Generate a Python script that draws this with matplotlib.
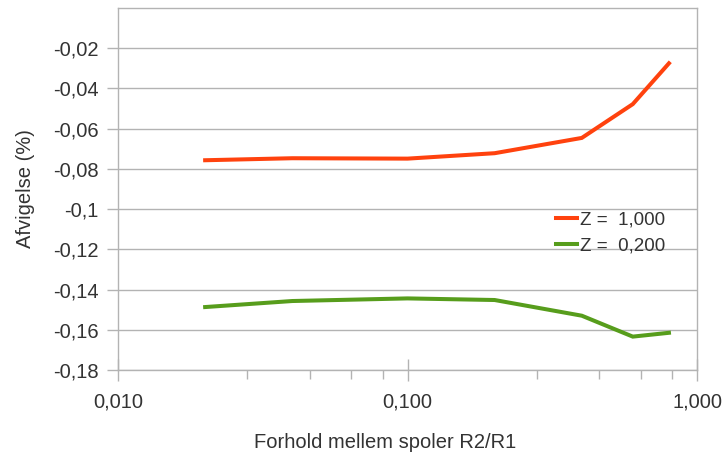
import matplotlib
matplotlib.use("Agg")
import matplotlib.pyplot as plt
from matplotlib.ticker import FixedLocator, NullFormatter

plt.rcParams['font.family'] = ['Liberation Sans', 'DejaVu Sans']

# Coil ratio R2/R1 and deviation (%) for two Z values
ratio = [0.02, 0.04, 0.1, 0.2, 0.4, 0.6, 0.8]
dev_z1000 = [-0.0757, -0.0747, -0.0749, -0.0722, -0.0646, -0.0478, -0.0275]
dev_z0200 = [-0.1487, -0.1457, -0.1444, -0.1452, -0.1530, -0.1634, -0.1615]

series_labels = ["Z =  1,000", "Z =  0,200"]
y_ticks = [-0.18, -0.16, -0.14, -0.12, -0.10, -0.08, -0.06, -0.04, -0.02]
y_tick_labels = ["-0,18", "-0,16", "-0,14", "-0,12", "-0,1", "-0,08", "-0,06", "-0,04", "-0,02"]
x_ticks = [0.01, 0.1, 1.0]
x_tick_labels = ["0,010", "0,100", "1,000"]
x_minor = [0.028, 0.046, 0.064, 0.082, 0.28, 0.46, 0.64, 0.82]

grey = "#b3b3b3"
text_col = "#333333"
W, H = 727, 457

fig = plt.figure(figsize=(W / 100, H / 100), dpi=100)
ax = fig.add_axes([118 / W, 1 - 370 / H, (697 - 118) / W, (370 - 8) / H])

ax.plot(ratio, dev_z1000, color="#ff420e", lw=2.9, label=series_labels[0], solid_joinstyle="miter")
ax.plot(ratio, dev_z0200, color="#579d1c", lw=2.9, label=series_labels[1], solid_joinstyle="miter")

ax.set_xscale("log")
ax.set_xlim(0.01, 1.0)
ax.set_ylim(-0.18, 0.0)

ax.xaxis.set_major_locator(FixedLocator(x_ticks))
ax.set_xticklabels(x_tick_labels)
ax.xaxis.set_minor_locator(FixedLocator(x_minor))
ax.xaxis.set_minor_formatter(NullFormatter())
ax.set_yticks(y_ticks)
ax.set_yticklabels(y_tick_labels)

ax.yaxis.grid(True, color=grey, lw=1)
ax.set_axisbelow(True)
for s in ax.spines.values():
    s.set_color(grey)
    s.set_linewidth(1)

ax.tick_params(axis="x", which="major", direction="inout", length=16, width=1,
               color=grey, labelsize=14.5, labelcolor=text_col, pad=8)
ax.tick_params(axis="x", which="minor", direction="out", length=6.5, width=1, color=grey)
ax.tick_params(axis="y", which="major", direction="out", length=8, width=1,
               color=grey, labelsize=14.5, labelcolor=text_col, pad=6)

ax.set_xlabel("Forhold mellem spoler R2/R1", fontsize=14.5, color=text_col, va="center")
ax.xaxis.set_label_coords(((253 + 517) / 2 - 118) / (697 - 118), -(443 - 370) / (370 - 8))
ax.set_ylabel("Afvigelse (%)", fontsize=14.5, color=text_col, va="center")
ax.yaxis.set_label_coords(-(118 - 26) / (697 - 118), 0.5)

leg = ax.legend(loc="center left", bbox_to_anchor=((556 - 118) / (697 - 118), 1 - (233 - 8) / (370 - 8)),
                frameon=False, fontsize=13.5, handlelength=1.1, handletextpad=0.2,
                labelspacing=0.45, borderaxespad=0, borderpad=0)
for t in leg.get_texts():
    t.set_color(text_col)

fig.savefig("out.png", dpi=100)
